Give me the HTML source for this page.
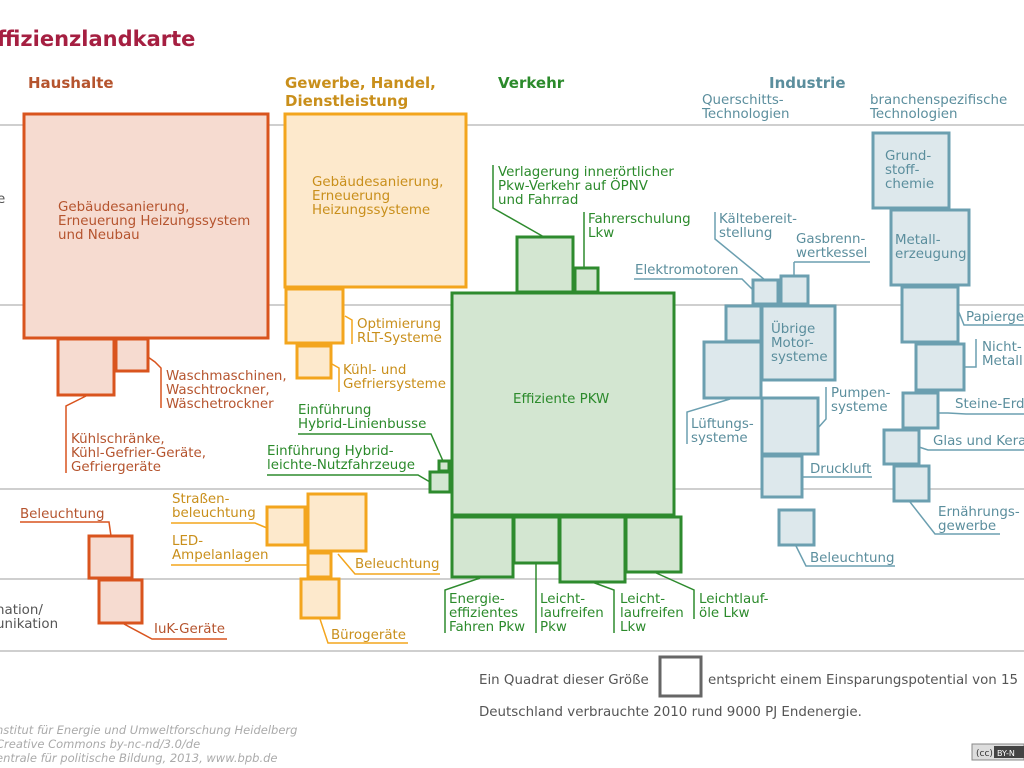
<!DOCTYPE html>
<html><head><meta charset="utf-8"><style>
html,body{margin:0;padding:0;background:#fff;}
svg{display:block;}
text{font-family:"DejaVu Sans","Liberation Sans",sans-serif;font-size:13.4px;}
.h{font-weight:bold;font-size:15px;}
.g{fill:#c98f1b;}
.v{fill:#2b8a2b;}
.i{fill:#5b8e9d;}
.gr{fill:#555;}
.bh{fill:#f6dbd0;stroke:#d9541e;stroke-width:3;}
.bg{fill:#fde9cc;stroke:#f3a51d;stroke-width:3;}
.bv{fill:#d3e6d1;stroke:#2e8b2e;stroke-width:3;}
.bi{fill:#dde8ec;stroke:#6b9fb0;stroke-width:3;}
.lh{stroke:#d9541e;fill:none;stroke-width:1.5;}
.lg{stroke:#f3a51d;fill:none;stroke-width:1.5;}
.lv{stroke:#2e8b2e;fill:none;stroke-width:1.5;}
.li{stroke:#6b9fb0;fill:none;stroke-width:1.5;}
</style></head><body>
<svg width="1024" height="768" viewBox="0 0 1024 768" xmlns="http://www.w3.org/2000/svg">
<g stroke="#cfcfcf" stroke-width="2">
<line x1="0" y1="125" x2="1024" y2="125"/>
<line x1="0" y1="305" x2="1024" y2="305"/>
<line x1="0" y1="489" x2="1024" y2="489"/>
<line x1="0" y1="579" x2="1024" y2="579"/>
<line x1="0" y1="651" x2="1024" y2="651"/>
</g>
<text x="-3" y="46" style="font-size:21px;font-weight:bold;fill:#a51f41;">ffizienzlandkarte</text>

<text x="28" y="88" class="h" fill="#b5542e">Haushalte</text>
<text x="285" y="88" class="h" fill="#c98f1b">Gewerbe, Handel,</text>
<text x="285" y="106" class="h" fill="#c98f1b">Dienstleistung</text>
<text x="498" y="88" class="h" fill="#2b8a2b">Verkehr</text>
<text x="769" y="88" class="h" fill="#5b8e9d">Industrie</text>
<text x="702" y="104" class="i">Querschitts-</text>
<text x="702" y="118" class="i">Technologien</text>
<text x="870" y="104" class="i">branchenspezifische</text>
<text x="870" y="118" class="i">Technologien</text>
<text x="-3" y="203" class="gr">e</text>
<text x="-4" y="614" class="gr">nation/</text>
<text x="-4" y="628" class="gr">unikation</text>

<rect class="bh" x="24" y="114" width="244" height="224"/>
<rect class="bh" x="58" y="339" width="56" height="56"/>
<rect class="bh" x="116" y="339" width="32" height="32"/>
<rect class="bh" x="89" y="536" width="43" height="42"/>
<rect class="bh" x="99" y="580" width="43" height="43"/>
<g fill="#b5542e">
<text x="58" y="211">Gebäudesanierung,</text>
<text x="58" y="225">Erneuerung Heizungssystem</text>
<text x="58" y="239">und Neubau</text>
<text x="166" y="380">Waschmaschinen,</text>
<text x="166" y="394">Waschtrockner,</text>
<text x="166" y="408">Wäschetrockner</text>
<text x="71" y="443">Kühlschränke,</text>
<text x="71" y="457">Kühl-Gefrier-Geräte,</text>
<text x="71" y="471">Gefriergeräte</text>
<text x="20" y="518">Beleuchtung</text>
<text x="154" y="633">IuK-Geräte</text>
</g>
<path class="lh" d="M148 357 L155 362 L161 368 L161 408"/>
<path class="lh" d="M86 396 L66 406 L66 473"/>
<path class="lh" d="M20 522 L109 522 L111 536"/>
<path class="lh" d="M124 624 L152 639 L227 639"/>

<rect class="bg" x="285" y="114" width="181" height="173"/>
<rect class="bg" x="286" y="289" width="57" height="54"/>
<rect class="bg" x="297" y="346" width="34" height="32"/>
<rect class="bg" x="267" y="507" width="38" height="38"/>
<rect class="bg" x="308" y="494" width="58" height="57"/>
<rect class="bg" x="308" y="553" width="23" height="24"/>
<rect class="bg" x="301" y="579" width="38" height="39"/>
<g fill="#c98f1b">
<text x="312" y="186">Gebäudesanierung,</text>
<text x="312" y="200">Erneuerung</text>
<text x="312" y="214">Heizungssysteme</text>
<text x="357" y="328">Optimierung</text>
<text x="357" y="342">RLT-Systeme</text>
<text x="343" y="374">Kühl- und</text>
<text x="343" y="388">Gefriersysteme</text>
<text x="172" y="503">Straßen-</text>
<text x="172" y="517">beleuchtung</text>
<text x="172" y="545">LED-</text>
<text x="172" y="559">Ampelanlagen</text>
<text x="355" y="568">Beleuchtung</text>
<text x="331" y="639">Bürogeräte</text>
</g>
<path class="lg" d="M345 316 L352 320 L352 344"/>
<path class="lg" d="M332 364 L339 368 L339 392"/>
<path class="lg" d="M171 523 L255 523 L267 528"/>
<path class="lg" d="M171 565 L308 565"/>
<path class="lg" d="M338 554 L355 574 L440 574"/>
<path class="lg" d="M320 619 L328 643 L408 643"/>

<rect class="bv" x="452" y="293" width="222" height="222"/>
<rect class="bv" x="517" y="237" width="56" height="55"/>
<rect class="bv" x="575" y="268" width="23" height="24"/>
<rect class="bv" x="439" y="461" width="10" height="10"/>
<rect class="bv" x="430" y="472" width="20" height="20"/>
<rect class="bv" x="452" y="517" width="61" height="60"/>
<rect class="bv" x="514" y="517" width="45" height="46"/>
<rect class="bv" x="560" y="517" width="65" height="65"/>
<rect class="bv" x="626" y="517" width="55" height="55"/>
<g fill="#2b8a2b">
<text x="498" y="176">Verlagerung innerörtlicher</text>
<text x="498" y="190">Pkw-Verkehr auf  ÖPNV</text>
<text x="498" y="204">und Fahrrad</text>
<text x="588" y="223">Fahrerschulung</text>
<text x="588" y="237">Lkw</text>
<text x="513" y="403">Effiziente PKW</text>
<text x="298" y="414">Einführung</text>
<text x="298" y="428">Hybrid-Linienbusse</text>
<text x="267" y="455">Einführung Hybrid-</text>
<text x="267" y="469">leichte-Nutzfahrzeuge</text>
<text x="449" y="603">Energie-</text>
<text x="449" y="617">effizientes</text>
<text x="449" y="631">Fahren Pkw</text>
<text x="540" y="603">Leicht-</text>
<text x="540" y="617">laufreifen</text>
<text x="540" y="631">Pkw</text>
<text x="620" y="603">Leicht-</text>
<text x="620" y="617">laufreifen</text>
<text x="620" y="631">Lkw</text>
<text x="699" y="603">Leichtlauf-</text>
<text x="699" y="617">öle Lkw</text>
</g>
<path class="lv" d="M493 165 L493 208 L544 237"/>
<path class="lv" d="M584 212 L584 268"/>
<path class="lv" d="M298 434 L431 434 L443 461"/>
<path class="lv" d="M267 475 L418 475 L430 482"/>
<path class="lv" d="M480 578 L445 590 L445 633"/>
<path class="lv" d="M536 563 L536 633"/>
<path class="lv" d="M592 582 L614 590 L614 633"/>
<path class="lv" d="M654 572 L694 590 L694 619"/>

<rect class="bi" x="753" y="280" width="25" height="24"/>
<rect class="bi" x="781" y="276" width="27" height="28"/>
<rect class="bi" x="726" y="306" width="35" height="35"/>
<rect class="bi" x="704" y="342" width="57" height="56"/>
<rect class="bi" x="762" y="306" width="73" height="74"/>
<rect class="bi" x="762" y="398" width="56" height="56"/>
<rect class="bi" x="762" y="456" width="40" height="41"/>
<rect class="bi" x="779" y="510" width="35" height="35"/>
<rect class="bi" x="873" y="133" width="76" height="75"/>
<rect class="bi" x="891" y="210" width="78" height="75"/>
<rect class="bi" x="902" y="287" width="56" height="55"/>
<rect class="bi" x="916" y="344" width="48" height="46"/>
<rect class="bi" x="903" y="393" width="35" height="35"/>
<rect class="bi" x="884" y="430" width="35" height="34"/>
<rect class="bi" x="894" y="466" width="35" height="35"/>
<g fill="#5b8e9d">
<text x="719" y="223">Kältebereit-</text>
<text x="719" y="237">stellung</text>
<text x="796" y="243">Gasbrenn-</text>
<text x="796" y="257">wertkessel</text>
<text x="635" y="274">Elektromotoren</text>
<text x="771" y="333">Übrige</text>
<text x="771" y="347">Motor-</text>
<text x="771" y="361">systeme</text>
<text x="831" y="397">Pumpen-</text>
<text x="831" y="411">systeme</text>
<text x="691" y="428">Lüftungs-</text>
<text x="691" y="442">systeme</text>
<text x="810" y="473">Druckluft</text>
<text x="810" y="562">Beleuchtung</text>
<text x="885" y="160">Grund-</text>
<text x="885" y="174">stoff-</text>
<text x="885" y="188">chemie</text>
<text x="895" y="244">Metall-</text>
<text x="895" y="258">erzeugung</text>
<text x="966" y="321">Papierge</text>
<text x="982" y="351">Nicht-</text>
<text x="982" y="365">Metall</text>
<text x="955" y="408">Steine-Erd</text>
<text x="933" y="445">Glas und Kera</text>
<text x="938" y="516">Ernährungs-</text>
<text x="938" y="530">gewerbe</text>
</g>
<path class="li" d="M715 212 L715 239 L765 280"/>
<path class="li" d="M794 262 L870 262"/>
<path class="li" d="M794 262 L794 276"/>
<path class="li" d="M634 279 L742 279 L753 290"/>
<path class="li" d="M730 399 L687 412 L687 444"/>
<path class="li" d="M826 387 L826 419 L818 428"/>
<path class="li" d="M802 477 L872 477"/>
<path class="li" d="M796 546 L806 566 L895 566"/>
<path class="li" d="M958 310 L964 325 L1024 325"/>
<path class="li" d="M976 339 L976 367 L964 367"/>
<path class="li" d="M938 413 L948 413 L966 414 L1024 414"/>
<path class="li" d="M919 447 L928 450 L1024 450"/>
<path class="li" d="M910 502 L935 534 L1000 534"/>

<text x="479" y="684" class="gr" style="font-size:13.4px">Ein Quadrat dieser Größe</text>
<rect x="660" y="657" width="41" height="39" fill="#fff" stroke="#666" stroke-width="3"/>
<text x="708" y="684" class="gr" style="font-size:13.4px">entspricht einem Einsparungspotential von 15</text>
<text x="479" y="716" class="gr" style="font-size:13.4px">Deutschland verbrauchte 2010 rund 9000 PJ Endenergie.</text>
<g fill="#aaa">
<text x="-4" y="734" style="font-style:italic;font-size:11.5px">nstitut für Energie und Umweltforschung Heidelberg</text>
<text x="-4" y="748" style="font-style:italic;font-size:11.5px">Creative Commons by-nc-nd/3.0/de</text>
<text x="-4" y="762" style="font-style:italic;font-size:11.5px">entrale für politische Bildung, 2013, www.bpb.de</text>
</g>
<rect x="972" y="744" width="52" height="16" fill="#ddd" stroke="#888"/>
<rect x="994" y="746" width="30" height="12" fill="#444"/>
<text x="976" y="756" style="font-size:9px;fill:#333">(cc)</text>
<text x="997" y="756" style="font-size:8px;fill:#fff">BY-N</text>
</svg>
</body></html>
